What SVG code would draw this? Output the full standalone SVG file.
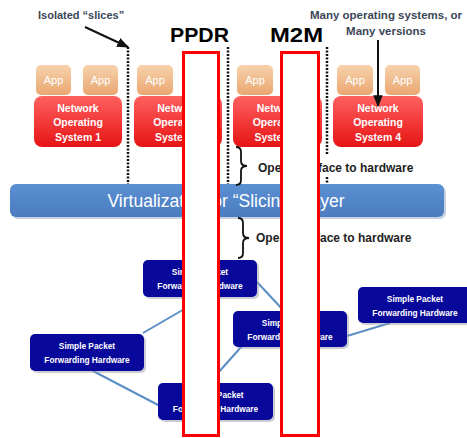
<svg xmlns="http://www.w3.org/2000/svg" width="467" height="438" viewBox="0 0 467 438">
<defs>
<linearGradient id="gApp" x1="0" y1="0" x2="0" y2="1"><stop offset="0" stop-color="#f7d2ad"/><stop offset="1" stop-color="#e9a770"/></linearGradient>
<linearGradient id="gNos" x1="0" y1="0" x2="0" y2="1"><stop offset="0" stop-color="#ff6060"/><stop offset="1" stop-color="#e61414"/></linearGradient>
<linearGradient id="gVirt" x1="0" y1="0" x2="0" y2="1"><stop offset="0" stop-color="#5b90d2"/><stop offset="1" stop-color="#4a7cbf"/></linearGradient>
<marker id="arr" viewBox="0 0 10 10" refX="9" refY="5" markerWidth="6" markerHeight="6" orient="auto"><path d="M0,1 L10,5 L0,9 z" fill="#111"/></marker>
</defs>
<style>
.app{fill:url(#gApp);}
.appt{font-family:"Liberation Sans",Arial,sans-serif;font-size:11px;fill:#fff;text-anchor:middle;}
.nos{fill:url(#gNos);}
.nost{font-family:"Liberation Sans",Arial,sans-serif;font-size:10.5px;font-weight:bold;fill:#fff;text-anchor:middle;}
.hw{fill:#08089a;}
.shadow{fill:#9a9ab0;opacity:0.5;}
.hwt{font-family:"Liberation Sans",Arial,sans-serif;font-size:8.3px;font-weight:bold;fill:#fff;text-anchor:middle;}
.link{stroke:#5b8ec4;stroke-width:2;fill:none;}
.dash{stroke:#111;stroke-width:2.5;stroke-dasharray:2 1.5;fill:none;}
.lbl{font-family:"Liberation Sans",Arial,sans-serif;font-weight:bold;fill:#3b4757;}
.oi{font-family:"Liberation Sans",Arial,sans-serif;font-size:12px;font-weight:bold;fill:#1e1e1e;}
.brace{stroke:#111;stroke-width:1.8;fill:none;}
.red{fill:#fff;stroke:#ff0000;stroke-width:3;}
.big{font-family:"Liberation Sans",Arial,sans-serif;font-size:21px;font-weight:bold;fill:#000;}
</style>

<g id="apps">
<rect class="app" x="36" y="65" width="35" height="30" rx="5"/><text class="appt" x="53.5" y="84">App</text>
<rect class="app" x="83" y="65" width="35" height="30" rx="5"/><text class="appt" x="100.5" y="84">App</text>
<rect class="app" x="137" y="65" width="36" height="30" rx="5"/><text class="appt" x="155" y="84">App</text>
<rect class="app" x="185" y="65" width="35" height="30" rx="5"/><text class="appt" x="202.5" y="84">App</text>
<rect class="app" x="237" y="65" width="36" height="30" rx="5"/><text class="appt" x="255" y="84">App</text>
<rect class="app" x="285" y="65" width="35" height="30" rx="5"/><text class="appt" x="302.5" y="84">App</text>
<rect class="app" x="337" y="65" width="36" height="30" rx="5"/><text class="appt" x="355" y="84">App</text>
<rect class="app" x="385" y="65" width="35" height="30" rx="5"/><text class="appt" x="402.5" y="84">App</text>
</g>

<g id="nos1"><rect class="nos" x="34" y="96" width="88" height="51" rx="8"/>
<text class="nost" x="78" y="112">Network</text><text class="nost" x="78" y="126">Operating</text><text class="nost" x="78" y="141">System 1</text></g>
<g id="nos2"><rect class="nos" x="134" y="96" width="88" height="51" rx="8"/>
<text class="nost" x="178" y="112">Network</text><text class="nost" x="178" y="126">Operating</text><text class="nost" x="178" y="141">System 2</text></g>
<g id="nos3"><rect class="nos" x="233" y="96" width="89" height="51" rx="8"/>
<text class="nost" x="277.5" y="112">Network</text><text class="nost" x="277.5" y="126">Operating</text><text class="nost" x="277.5" y="141">System 3</text></g>
<g id="nos4"><rect class="nos" x="333" y="96" width="90" height="51" rx="8"/>
<text class="nost" x="378" y="112">Network</text><text class="nost" x="378" y="126">Operating</text><text class="nost" x="378" y="141">System 4</text></g>

<g id="virt"><rect x="12" y="186" width="434" height="33" rx="6" fill="#8fa6c4" opacity="0.5"/>
<rect x="10" y="184" width="434" height="33" rx="6" fill="url(#gVirt)"/>
<text x="226" y="207" font-family="Liberation Sans,Arial,sans-serif" font-size="17.5" fill="#fff" text-anchor="middle">Virtualization or “Slicing” Layer</text></g>

<g id="connectors">
<line class="link" x1="143" y1="333" x2="205" y2="297"/>
<line class="link" x1="93" y1="371" x2="160" y2="406"/>
<line class="link" x1="257" y1="282" x2="284" y2="311"/>
<line class="link" x1="209" y1="383" x2="242" y2="346"/>
<line class="link" x1="347" y1="336" x2="390" y2="323"/>
<line x1="85" y1="27" x2="128" y2="47" stroke="#111" stroke-width="2" marker-end="url(#arr)"/>
<line x1="378" y1="40" x2="378" y2="106" stroke="#111" stroke-width="2" marker-end="url(#arr)"/>
<line class="dash" x1="128" y1="47" x2="128" y2="184"/>
<line class="dash" x1="228" y1="47" x2="228" y2="184"/>
<line class="dash" x1="327" y1="47" x2="327" y2="155"/>
<line class="dash" x1="327" y1="177" x2="327" y2="184"/>
<path class="brace" d="M236,147 q5,0 5,5 v9 q0,5 6,5 q-6,0 -6,5 v9 q0,5 -5,5"/>
<path class="brace" d="M238,218 q5,0 5,5 v10 q0,5 6,5 q-6,0 -6,5 v10 q0,5 -5,5"/>
</g>

<g id="hwA"><rect class="shadow" x="145" y="262" width="114" height="37" rx="5"/><rect class="hw" x="143" y="260" width="114" height="37" rx="5"/>
<text class="hwt" x="200" y="275">Simple Packet</text><text class="hwt" x="200" y="289">Forwarding Hardware</text></g>
<g id="hwB"><rect class="shadow" x="32" y="336" width="114" height="37" rx="5"/><rect class="hw" x="30" y="334" width="114" height="37" rx="5"/>
<text class="hwt" x="87" y="349">Simple Packet</text><text class="hwt" x="87" y="363">Forwarding Hardware</text></g>
<g id="hwC"><rect class="shadow" x="160" y="385" width="115" height="37" rx="5"/><rect class="hw" x="158" y="383" width="115" height="37" rx="5"/>
<text class="hwt" x="215.5" y="398">Simple Packet</text><text class="hwt" x="215.5" y="412">Forwarding Hardware</text></g>
<g id="hwD"><rect class="shadow" x="235" y="313" width="114" height="36" rx="5"/><rect class="hw" x="233" y="311" width="114" height="36" rx="5"/>
<text class="hwt" x="290" y="326">Simple Packet</text><text class="hwt" x="290" y="340">Forwarding Hardware</text></g>
<g id="hwE"><rect class="shadow" x="360" y="289" width="114" height="36" rx="5"/><rect class="hw" x="358" y="287" width="114" height="36" rx="5"/>
<text class="hwt" x="415" y="302">Simple Packet</text><text class="hwt" x="415" y="316">Forwarding Hardware</text></g>

<g id="labels">
<text class="lbl" x="38" y="19" font-size="11">Isolated “slices”</text>
<text class="lbl" x="386" y="19" font-size="11.5" text-anchor="middle">Many operating systems, or</text>
<text class="lbl" x="386" y="35" font-size="11.5" text-anchor="middle">Many versions</text>
<text class="oi" x="258" y="172">Open Interface to hardware</text>
<text class="oi" x="256" y="242">Open Interface to hardware</text>
</g>

<g id="ppdr"><rect class="red" x="183.5" y="52.5" width="35" height="383"/>
<text class="big" x="170" y="42" textLength="59" lengthAdjust="spacingAndGlyphs">PPDR</text></g>
<g id="m2m"><rect class="red" x="281.5" y="52.5" width="37" height="383"/>
<text class="big" x="270" y="42" textLength="53" lengthAdjust="spacingAndGlyphs">M2M</text></g>
</svg>
